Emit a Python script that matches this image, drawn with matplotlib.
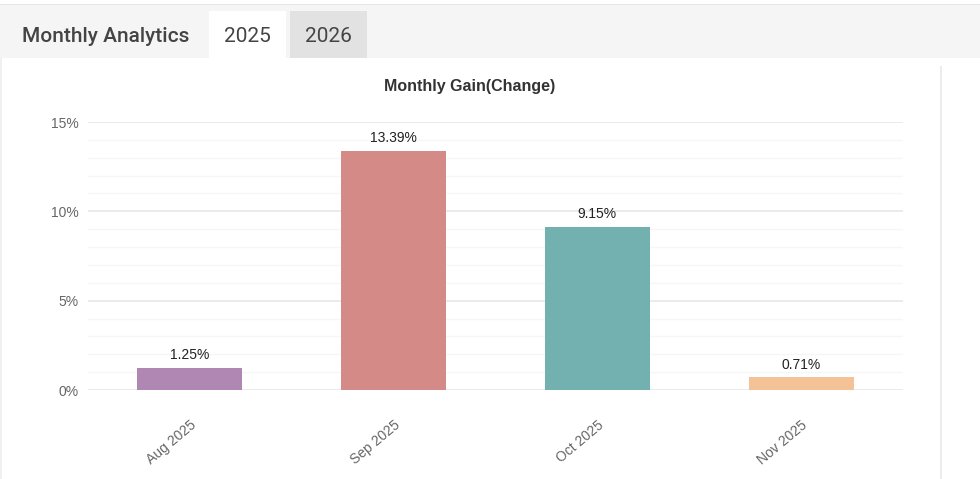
import matplotlib.pyplot as plt
from matplotlib.patches import Rectangle

# Data
months = ['Aug 2025', 'Sep 2025', 'Oct 2025', 'Nov 2025']
gains = [1.25, 13.39, 9.15, 0.71]
bar_colors = ['#b087b3', '#d48a87', '#73b1b1', '#f5c298']
tabs = ['2025', '2026']

W, H = 980, 479
fig = plt.figure(figsize=(W / 100, H / 100), dpi=100)
fig.patch.set_facecolor('white')

def box(x0, y0, x1, y1, color, z=0):
    # pixel coords (top-left origin) -> figure fraction
    fig.patches.append(Rectangle((x0 / W, 1 - y1 / H), (x1 - x0) / W, (y1 - y0) / H,
                                 transform=fig.transFigure, facecolor=color,
                                 edgecolor='none', zorder=z))

# header band + tabs
box(0, 4, W, 58, '#f5f5f5')
box(0, 4, W, 5, '#e6e6e6')
box(209, 11, 286, 58, 'white')
box(290, 11, 367, 58, '#e2e2e2')
# card borders
box(940, 66, 941.5, H, '#ececec')
box(0, 58, 1.5, H, '#f0f0f0')

fig.text(22 / W, 1 - 36 / H, 'Monthly Analytics', family='Roboto', fontsize=15,
         fontweight='medium', color='#444444', va='center', ha='left')
fig.text(247.5 / W, 1 - 36 / H, tabs[0], family='Roboto', fontsize=15,
         color='#444444', va='center', ha='center')
fig.text(328.5 / W, 1 - 36 / H, tabs[1], family='Roboto', fontsize=15,
         color='#444444', va='center', ha='center')

# chart
ax = fig.add_axes([88 / W, 1 - 390 / H, (903 - 88) / W, (390 - 122) / H])
ax.set_facecolor('none')
x = range(len(months))
ax.bar(x, gains, width=0.515, color=bar_colors, zorder=3)
for i, v in enumerate(gains):
    ax.text(i, v + 0.3, f'{v:.2f}%', ha='center', va='bottom',
            fontsize=10, family='Liberation Sans', color='#222222')

ax.set_xlim(-0.5, len(months) - 0.5)
ax.set_ylim(0, 15)
ax.set_yticks([0, 5, 10, 15])
ax.set_yticklabels(['0%', '5%', '10%', '15%'])
ax.set_yticks(range(0, 16), minor=True)
ax.grid(axis='y', which='major', color='#e8e8e8', linewidth=1.2, zorder=0)
ax.grid(axis='y', which='minor', color='#f6f6f6', linewidth=1, zorder=0)
ax.set_xticks(list(x))
ax.set_xticklabels(months, rotation=40, ha='right', rotation_mode='anchor')
for lab in ax.get_xticklabels() + ax.get_yticklabels():
    lab.set_family('Liberation Sans')
    lab.set_fontsize(10)
    lab.set_color('#666666')
ax.tick_params(axis='both', which='both', length=0)
ax.tick_params(axis='y', pad=7)
ax.tick_params(axis='x', pad=20)
for s in ax.spines.values():
    s.set_visible(False)

fig.text(470 / W, 1 - 87 / H, 'Monthly Gain(Change)', ha='center', va='center',
         fontsize=11.5, fontweight='bold', family='Liberation Sans', color='#333333')

fig.savefig('out.png', dpi=100, facecolor='white')
